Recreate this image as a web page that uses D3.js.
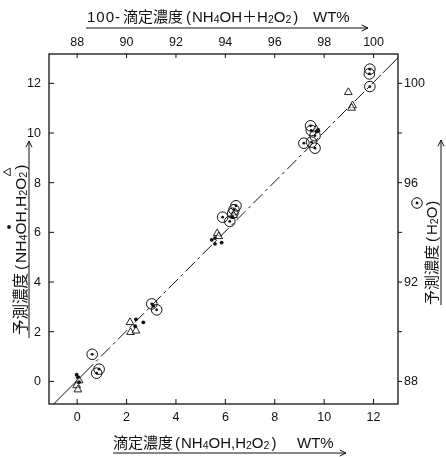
<!DOCTYPE html>
<html>
<head>
<meta charset="utf-8">
<script src="https://cdn.jsdelivr.net/npm/d3@7"></script>
<style>
  body { margin: 0; background: #fff; }
  svg { will-change: transform; }
  text { font-family: "Liberation Sans", "Noto Sans CJK JP", sans-serif; fill: #111; }
</style>
</head>
<body>
<div id="chart"></div>
<script>
// ---- data ----
// H2O (circle with dot): titrated value on the top axis, predicted on the right axis
var h2oTitrated  = [88.63, 88.91, 88.81, 91.04, 91.24, 93.91, 94.20, 94.32, 94.37, 94.45, 97.20, 97.47, 97.50, 97.51, 97.65, 97.65, 99.87, 99.85, 99.87];
var h2oPredicted = [89.07, 88.47, 88.31, 91.10, 90.86, 94.59, 94.42, 94.75, 94.89, 95.05, 97.57, 98.27, 98.08, 97.61, 97.87, 97.37, 100.55, 100.36, 99.85];

// NH4OH (filled dot)
var nh4ohTitrated  = [0.05, 0.10, 0.00, 2.40, 2.70, 2.37, 3.10, 5.47, 5.60, 5.87, 5.60, 6.30, 9.72, 9.78];
var nh4ohPredicted = [0.15, -0.05, 0.25, 2.48, 2.36, 2.20, 3.02, 5.68, 5.52, 5.57, 5.75, 6.60, 10.04, 10.10];

// H2O2 (open triangle)
var h2o2Titrated  = [0.00, 0.05, 0.10, 2.16, 2.18, 2.40, 5.69, 5.75, 6.35, 9.70, 11.00, 11.17, 11.13];
var h2o2Predicted = [-0.15, -0.32, 0.05, 2.39, 1.99, 2.05, 5.97, 5.85, 6.70, 10.15, 11.65, 11.12, 11.02];

var bottomTicks = [0, 2, 4, 6, 8, 10, 12];
var leftTicks   = [0, 2, 4, 6, 8, 10, 12];
var topTicks    = [88, 90, 92, 94, 96, 98, 100];
var rightTicks  = [88, 90, 92, 94, 96, 98, 100];
var rightLabels = [88, 92, 96, 100];

// set the dimensions and margins of the graph
var margin = {top: 54, right: 48, bottom: 53, left: 49},
    width = 446 - margin.left - margin.right,
    height = 457 - margin.top - margin.bottom;

var svg = d3.select("#chart")
  .append("svg")
  .attr("width", 446)
  .attr("height", 457);

var g = svg.append("g")
  .attr("transform", "translate(" + margin.left + "," + margin.top + ")");

// scales: top/right axes are the same frame shifted by 88
var x = d3.scaleLinear().domain([-1.12, 13.01]).range([0, width]);
var y = d3.scaleLinear().domain([-0.93, 13.16]).range([height, 0]);
var xTop = d3.scaleLinear().domain([86.88, 101.01]).range([0, width]);
var yRight = d3.scaleLinear().domain([87.07, 101.16]).range([height, 0]);

// frame
g.append("rect")
  .attr("width", width)
  .attr("height", height)
  .attr("fill", "none")
  .attr("stroke", "#111")
  .attr("stroke-width", 1.3);

function styleAxis(sel) {
  sel.select(".domain").remove();
  sel.selectAll("line").attr("stroke", "#111").attr("stroke-width", 1);
  sel.selectAll("text")
    .attr("font-size", 12.5)
    .style("font-family", "'Liberation Sans', sans-serif")
    .attr("fill", "#111");
}

// bottom axis (ticks inside)
g.append("g")
  .attr("transform", "translate(0," + height + ")")
  .call(d3.axisBottom(x).tickValues(bottomTicks).tickSizeInner(-5).tickSizeOuter(0).tickPadding(8))
  .call(styleAxis);

// left axis (ticks inside)
g.append("g")
  .call(d3.axisLeft(y).tickValues(leftTicks).tickSizeInner(-5).tickSizeOuter(0).tickPadding(8))
  .call(styleAxis);

// top axis (ticks inside)
g.append("g")
  .call(d3.axisTop(xTop).tickValues(topTicks).tickSizeInner(-4).tickSizeOuter(0).tickPadding(8))
  .call(styleAxis);

// right axis (short ticks outside, label every other tick)
g.append("g")
  .attr("transform", "translate(" + width + ",0)")
  .call(d3.axisRight(yRight).tickValues(rightTicks).tickSizeInner(4).tickSizeOuter(0).tickPadding(2)
    .tickFormat(function(d) { return rightLabels.indexOf(d) >= 0 ? d : ""; }))
  .call(styleAxis);

// diagonal y = x
var lo = Math.max(x.domain()[0], y.domain()[0]),
    hi = Math.min(x.domain()[1], y.domain()[1]);
g.append("line")
  .attr("x1", x(lo)).attr("y1", y(lo))
  .attr("x2", x(0.3)).attr("y2", y(0.3))
  .attr("stroke", "#111").attr("stroke-width", 1);
g.append("line")
  .attr("x1", x(0.3)).attr("y1", y(0.3))
  .attr("x2", x(12.4)).attr("y2", y(12.4))
  .attr("stroke", "#111").attr("stroke-width", 1)
  .style("stroke-dasharray", "13,4,3,4");
g.append("line")
  .attr("x1", x(12.4)).attr("y1", y(12.4))
  .attr("x2", x(hi)).attr("y2", y(hi))
  .attr("stroke", "#111").attr("stroke-width", 1);

// ---------------------------//
//       MARKERS              //
// ---------------------------//

var tri = d3.symbol().type(d3.symbolTriangle).size(26);

function drawCircleDot(sel, cx, cy) {
  sel.append("circle").attr("cx", cx).attr("cy", cy).attr("r", 5.3)
    .attr("fill", "none").attr("stroke", "#111").attr("stroke-width", 1);
  sel.append("circle").attr("cx", cx).attr("cy", cy).attr("r", 1.4)
    .attr("fill", "#111");
}

var h2oData = h2oTitrated.map(function(d, i) { return [d, h2oPredicted[i]]; });
var nh4ohData = nh4ohTitrated.map(function(d, i) { return [d, nh4ohPredicted[i]]; });
var h2o2Data = h2o2Titrated.map(function(d, i) { return [d, h2o2Predicted[i]]; });

var h2oG = g.append("g");
h2oData.forEach(function(d) { drawCircleDot(h2oG, xTop(d[0]), yRight(d[1])); });

g.append("g")
  .selectAll("path")
  .data(h2o2Data)
  .enter()
  .append("path")
    .attr("d", tri)
    .attr("transform", function(d) { return "translate(" + x(d[0]) + "," + (y(d[1]) + 0.8) + ")"; })
    .attr("fill", "white")
    .attr("fill-opacity", 0.6)
    .attr("stroke", "#111")
    .attr("stroke-width", 0.9);

g.append("g")
  .selectAll("circle")
  .data(nh4ohData)
  .enter()
  .append("circle")
    .attr("cx", function(d) { return x(d[0]); })
    .attr("cy", function(d) { return y(d[1]); })
    .attr("r", 1.9)
    .attr("fill", "#111");

// ---------------------------//
//       TITLES               //
// ---------------------------//

// segments: [string, x (or null to follow on), isSubscript, dx]
function richText(sel, segs) {
  var shifted = false;
  segs.forEach(function(p) {
    var t = sel.append("tspan").text(p[0]);
    if (p[1] != null) t.attr("x", p[1]);
    if (p[3]) t.attr("dx", p[3]);
    if (p[2]) {
      t.attr("font-size", "0.7em");
      if (!shifted) { t.attr("dy", "0.1em"); shifted = true; }
    } else if (shifted) {
      t.attr("dy", "-0.07em");
      shifted = false;
    }
  });
}

function arrow(sel, x1, y1, x2, y2) {
  sel.append("line").attr("x1", x1).attr("y1", y1).attr("x2", x2).attr("y2", y2)
    .attr("stroke", "#111").attr("stroke-width", 1);
  var a = Math.atan2(y2 - y1, x2 - x1), L = 7, w = 0.45;
  sel.append("path")
    .attr("d", "M" + (x2 - L * Math.cos(a - w)) + "," + (y2 - L * Math.sin(a - w)) +
               "L" + x2 + "," + y2 +
               "L" + (x2 - L * Math.cos(a + w)) + "," + (y2 - L * Math.sin(a + w)))
    .attr("fill", "none").attr("stroke", "#111").attr("stroke-width", 1);
}

// top title
var topTitle = svg.append("text").attr("y", 22).attr("font-size", 15);
richText(topTitle, [
  ["100-", 87, 0], ["滴定濃度", 123, 0], ["(", 186, 0],
  ["NH", 192, 0], ["4", null, 1], ["OH", null, 0], ["＋", null, 0],
  ["H", null, 0], ["2", null, 1], ["O", null, 0], ["2", null, 1],
  [")", null, 0, 2], ["WT%", 313, 0]
]);
topTitle.select("tspan").attr("letter-spacing", 1);
arrow(svg, 86, 28, 368, 28);

// bottom title
var bottomTitle = svg.append("text").attr("y", 448).attr("font-size", 15);
richText(bottomTitle, [
  ["滴定濃度", 113, 0], ["(", 175, 0],
  ["NH", 181, 0], ["4", null, 1], ["OH,H", null, 0], ["2", null, 1], ["O", null, 0], ["2", null, 1],
  [")", null, 0, 2], ["WT%", 297, 0]
]);
arrow(svg, 113, 453, 346, 453);

// left title (rotated, local x runs upward from y = 335)
var leftG = svg.append("g").attr("transform", "translate(26,335) rotate(-90)");
var leftTitle = leftG.append("text").attr("y", 0).attr("font-size", 15.5);
richText(leftTitle, [
  ["予測濃度", 0, 0], ["(", 65, 0],
  ["NH", 72, 0], ["4", null, 1], ["OH,H", null, 0], ["2", null, 1], ["O", null, 0], ["2", null, 1],
  [")", null, 0, 2]
]);
leftG.append("circle").attr("cx", 108).attr("cy", -17).attr("r", 1.9).attr("fill", "#111");
leftG.append("path").attr("d", tri).attr("transform", "translate(163,-18)")
  .attr("fill", "none").attr("stroke", "#111").attr("stroke-width", 0.9);
arrow(leftG, -3, 3, 194, 3);

// right title (rotated)
var rightG = svg.append("g").attr("transform", "translate(437,305) rotate(-90)");
var rightTitle = rightG.append("text").attr("y", 0).attr("font-size", 15);
richText(rightTitle, [
  ["予測濃度", 0, 0], ["(", 63, 0], ["H", 70, 0], ["2", null, 1], ["O", null, 0], [")", null, 0, 1]
]);
drawCircleDot(rightG, 102, -20);
arrow(rightG, 0, 4, 165, 4);
</script>
</body>
</html>
